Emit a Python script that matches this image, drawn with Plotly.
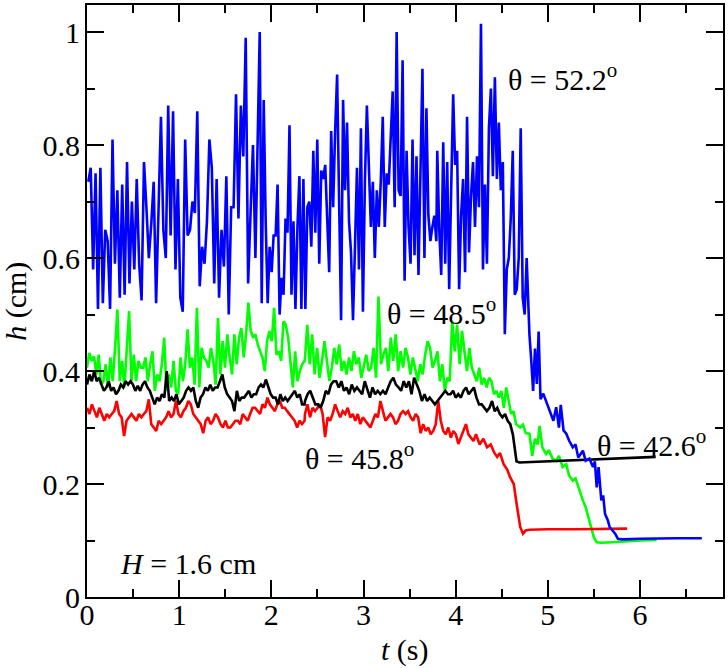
import numpy as np
import plotly.graph_objects as go

# ---------------- data (h in cm, t in s) ----------------
# Noisy parts are sampled uniformly inside each time span listed.
blue_spans = [(0.014, 1.827), (1.874, 3.79), (3.80, 4.77)]
blue_a = [0.735, 0.76, 0.58, 0.75, 0.51, 0.76, 0.52, 0.65, 0.63, 0.51, 0.81, 0.59, 0.72, 0.53, 0.73,
          0.535, 0.77, 0.555, 0.70, 0.58, 0.74, 0.59, 0.525, 0.77, 0.69, 0.60, 0.66, 0.735, 0.52, 0.67,
          0.85, 0.65, 0.60, 0.87, 0.64, 0.86, 0.58, 0.74, 0.53, 0.505, 0.81, 0.64, 0.65, 0.70, 0.68,
          0.86, 0.55, 0.62, 0.59, 0.665, 0.81, 0.76, 0.555, 0.74, 0.53, 0.65, 0.585, 0.745, 0.50, 0.69,
          0.69, 0.89, 0.67, 0.87, 0.78, 0.99, 0.555, 0.68, 0.80, 0.60]
blue_b = [1.0, 0.52, 0.88, 0.665, 0.52, 0.62, 0.575, 0.64, 0.64, 0.73, 0.50, 0.565, 0.535, 0.67, 0.645,
          0.835, 0.535, 0.665, 0.51, 0.655, 0.745, 0.51, 0.74, 0.51, 0.69, 0.70, 0.62, 0.79, 0.645, 0.81,
          0.59, 0.755, 0.74, 0.765, 0.665, 0.575, 0.825, 0.69, 0.825, 0.925, 0.70, 0.49, 0.88, 0.72, 0.84,
          0.665, 0.61, 0.49, 0.62, 0.76, 0.58, 0.83, 0.505, 0.735, 0.87, 0.75, 0.655, 0.735, 0.60, 0.72,
          0.655, 0.735, 0.85, 0.655, 0.75, 0.73, 0.81, 0.895, 0.69, 1.0, 0.72, 0.71, 0.95, 0.56, 0.79,
          0.655, 0.59, 0.81, 0.605, 0.78, 0.57, 0.79, 0.935, 0.60, 0.865, 0.675, 0.63, 0.655, 0.675, 0.63]
blue_c = [0.79, 0.65, 0.57, 0.805, 0.59, 0.77, 0.545, 0.72, 0.89, 0.765, 0.79, 0.545, 0.675, 0.74, 0.575,
          0.85, 0.61, 0.71, 0.77, 0.655, 0.78, 0.69, 1.015, 0.58, 0.73, 0.59, 0.83, 0.90, 0.745, 0.92,
          0.74, 0.84, 0.72, 0.77, 0.465, 0.58, 0.60, 0.67, 0.79, 0.535, 0.545, 0.60, 0.83, 0.53, 0.50, 0.60]
blue_tail_t = [4.80, 4.82, 4.84, 4.86, 4.88, 4.90, 4.92, 4.95, 4.98, 5.02, 5.06, 5.09, 5.12, 5.14, 5.17,
               5.20, 5.23, 5.27, 5.30, 5.33, 5.38, 5.41, 5.45, 5.49, 5.51, 5.53, 5.55, 5.58, 5.60, 5.62,
               5.65, 5.67, 5.70, 5.73, 5.76, 5.81, 6.0, 6.2, 6.4, 6.67]
blue_tail_h = [0.465, 0.418, 0.365, 0.44, 0.377, 0.47, 0.35, 0.36, 0.347, 0.33, 0.312, 0.336, 0.30, 0.34, 0.295,
               0.289, 0.277, 0.265, 0.27, 0.247, 0.259, 0.241, 0.245, 0.23, 0.24, 0.194, 0.23, 0.171, 0.18, 0.147,
               0.136, 0.124, 0.118, 0.112, 0.103, 0.102, 0.103, 0.104, 0.104, 0.104]

green_spans = [(0.0, 2.36), (2.363, 4.655)]
green_a = [0.406, 0.432, 0.418, 0.426, 0.394, 0.429, 0.376, 0.382, 0.412, 0.371, 0.424, 0.382, 0.441, 0.509,
           0.382, 0.418, 0.371, 0.447, 0.506, 0.382, 0.429, 0.382, 0.418, 0.406, 0.406, 0.424, 0.382, 0.412,
           0.435, 0.365, 0.394, 0.382, 0.412, 0.459, 0.365, 0.394, 0.371, 0.418, 0.365, 0.359, 0.424, 0.382,
           0.412, 0.474, 0.406, 0.424, 0.376, 0.512, 0.371, 0.441, 0.424, 0.418, 0.406, 0.441, 0.418, 0.376,
           0.494, 0.394, 0.453, 0.406, 0.465, 0.424, 0.394, 0.465, 0.412, 0.459, 0.476, 0.424, 0.465, 0.521,
           0.471, 0.459, 0.465, 0.447, 0.435, 0.424, 0.40, 0.453, 0.471, 0.453, 0.512, 0.429, 0.435, 0.418,
           0.488, 0.482, 0.459, 0.418, 0.371, 0.435, 0.382, 0.40, 0.412, 0.418]
green_b = [0.418, 0.482, 0.412, 0.465, 0.394, 0.441, 0.388, 0.418, 0.453, 0.418, 0.382, 0.406, 0.441, 0.412,
           0.447, 0.40, 0.418, 0.394, 0.424, 0.40, 0.435, 0.412, 0.424, 0.388, 0.406, 0.429, 0.40, 0.406,
           0.441, 0.388, 0.532, 0.412, 0.429, 0.441, 0.40, 0.459, 0.418, 0.465, 0.40, 0.435, 0.406, 0.441,
           0.424, 0.394, 0.424, 0.40, 0.382, 0.412, 0.394, 0.429, 0.453, 0.441, 0.406, 0.418, 0.435, 0.382,
           0.412, 0.365, 0.388, 0.382, 0.488, 0.435, 0.482, 0.412, 0.471, 0.435, 0.40, 0.441, 0.406, 0.394,
           0.382, 0.406, 0.376, 0.388, 0.371, 0.388, 0.382, 0.359, 0.365, 0.353, 0.365, 0.335, 0.371, 0.347,
           0.324, 0.329, 0.306]
green_tail_t = [4.70, 4.73, 4.76, 4.80, 4.83, 4.86, 4.89, 4.91, 4.94, 4.98, 5.01, 5.05, 5.09, 5.12, 5.16,
                5.20, 5.23, 5.27, 5.30, 5.34, 5.38, 5.41, 5.44, 5.47, 5.50, 5.53, 5.58, 5.70, 5.85, 6.0, 6.18]
green_tail_h = [0.30, 0.305, 0.29, 0.289, 0.25, 0.28, 0.27, 0.303, 0.265, 0.253, 0.26, 0.245, 0.241, 0.25, 0.23,
                0.235, 0.215, 0.206, 0.21, 0.189, 0.171, 0.159, 0.14, 0.125, 0.105, 0.097, 0.096, 0.097, 0.099,
                0.10, 0.101]

black_spans = [(0.0, 2.36), (2.365, 4.62)]
black_a = [0.376, 0.394, 0.382, 0.40, 0.382, 0.388, 0.376, 0.365, 0.371, 0.382, 0.365, 0.371, 0.359, 0.365,
           0.376, 0.371, 0.382, 0.376, 0.382, 0.376, 0.365, 0.374, 0.365, 0.376, 0.382, 0.371, 0.365, 0.353,
           0.341, 0.353, 0.347, 0.359, 0.353, 0.40, 0.347, 0.353, 0.347, 0.359, 0.341, 0.347, 0.353, 0.365,
           0.371, 0.365, 0.371, 0.347, 0.335, 0.353, 0.359, 0.371, 0.365, 0.376, 0.365, 0.371, 0.371, 0.382,
           0.394, 0.371, 0.359, 0.353, 0.347, 0.329, 0.365, 0.347, 0.353, 0.353, 0.359, 0.365, 0.353, 0.359,
           0.359, 0.371, 0.376, 0.371, 0.385, 0.371, 0.359, 0.353, 0.353, 0.341, 0.359, 0.347, 0.353, 0.347,
           0.353, 0.359, 0.365, 0.353, 0.359, 0.341, 0.341]
black_b = [0.347, 0.359, 0.365, 0.353, 0.341, 0.341, 0.335, 0.347, 0.365, 0.359, 0.376, 0.382, 0.382, 0.371,
           0.382, 0.365, 0.371, 0.359, 0.376, 0.365, 0.371, 0.365, 0.359, 0.382, 0.365, 0.353, 0.371, 0.359,
           0.365, 0.359, 0.365, 0.359, 0.371, 0.382, 0.388, 0.376, 0.371, 0.365, 0.382, 0.371, 0.382, 0.359,
           0.388, 0.376, 0.365, 0.347, 0.359, 0.347, 0.353, 0.347, 0.341, 0.347, 0.353, 0.359, 0.365, 0.359,
           0.359, 0.365, 0.353, 0.359, 0.353, 0.365, 0.371, 0.359, 0.365, 0.371, 0.353, 0.341, 0.341, 0.335,
           0.329, 0.335, 0.347, 0.329, 0.335, 0.324, 0.318, 0.324, 0.312, 0.306, 0.288]
black_tail_t = [4.66, 4.69, 6.17]
black_tail_h = [0.24, 0.238, 0.248]

red_spans = [(0.0, 2.36), (2.365, 4.22)]
red_a = [0.335, 0.324, 0.341, 0.329, 0.318, 0.335, 0.324, 0.312, 0.324, 0.318, 0.324, 0.329, 0.347, 0.324,
         0.318, 0.285, 0.312, 0.318, 0.324, 0.318, 0.312, 0.324, 0.318, 0.324, 0.329, 0.35, 0.306, 0.30,
         0.294, 0.312, 0.306, 0.312, 0.318, 0.329, 0.318, 0.324, 0.347, 0.324, 0.318, 0.329, 0.335, 0.347,
         0.341, 0.324, 0.318, 0.312, 0.306, 0.29, 0.312, 0.318, 0.306, 0.312, 0.324, 0.318, 0.306, 0.30,
         0.312, 0.30, 0.30, 0.306, 0.312, 0.312, 0.306, 0.324, 0.318, 0.312, 0.324, 0.335, 0.335, 0.329,
         0.324, 0.341, 0.335, 0.353, 0.341, 0.335, 0.329, 0.341, 0.347, 0.335, 0.335, 0.329, 0.324, 0.318,
         0.312, 0.30, 0.312, 0.306, 0.312]
red_b = [0.324, 0.341, 0.318, 0.335, 0.329, 0.335, 0.341, 0.324, 0.283, 0.318, 0.312, 0.324, 0.341, 0.329,
         0.318, 0.329, 0.324, 0.335, 0.318, 0.324, 0.312, 0.324, 0.306, 0.318, 0.312, 0.306, 0.30, 0.312,
         0.324, 0.318, 0.347, 0.329, 0.312, 0.318, 0.324, 0.318, 0.306, 0.312, 0.324, 0.329, 0.324, 0.329,
         0.318, 0.312, 0.324, 0.318, 0.29, 0.306, 0.294, 0.30, 0.288, 0.294, 0.306, 0.347, 0.312, 0.294,
         0.288, 0.30, 0.282, 0.294, 0.288, 0.271, 0.282, 0.294, 0.306, 0.288, 0.282, 0.276, 0.288]
red_tail_t = [4.26, 4.30, 4.34, 4.38, 4.42, 4.45, 4.48, 4.52, 4.56, 4.59, 4.63, 4.66, 4.70, 4.73, 4.76,
              4.80, 5.0, 5.3, 5.6, 5.86]
red_tail_h = [0.27, 0.28, 0.265, 0.27, 0.255, 0.248, 0.255, 0.235, 0.225, 0.212, 0.20, 0.166, 0.124, 0.112,
              0.118, 0.119, 0.12, 0.12, 0.121, 0.121]

labels = ["θ = 52.2<sup>o</sup>", "θ = 48.5<sup>o</sup>", "θ = 45.8<sup>o</sup>", "θ = 42.6<sup>o</sup>",
          "<i>H</i> = 1.6 cm"]
label_t = [4.55, 3.23, 2.34, 5.51, 0.34]
label_h = [0.92, 0.506, 0.25, 0.272, 0.06]


def build(spans, segs, tail_t, tail_h):
    t, h = [], []
    for (t0, t1), vals in zip(spans, segs):
        t.extend(np.linspace(t0, t1, len(vals)).tolist())
        h.extend(vals)
    return t + list(tail_t), h + list(tail_h)


series = [
    ("#00ff00", build(green_spans, [green_a, green_b], green_tail_t, green_tail_h)),
    ("#ff0000", build(red_spans, [red_a, red_b], red_tail_t, red_tail_h)),
    ("#000000", build(black_spans, [black_a, black_b], black_tail_t, black_tail_h)),
    ("#0000ff", build(blue_spans, [blue_a, blue_b, blue_c], blue_tail_t, blue_tail_h)),
]

FONT = "Liberation Serif, Times New Roman, Times, serif"
fig = go.Figure()
for color, (t, h) in series:
    fig.add_trace(go.Scatter(x=t, y=h, mode="lines", line=dict(color=color, width=2.6),
                             showlegend=False, hoverinfo="skip"))

for txt, tx, hy in zip(labels, label_t, label_h):
    fig.add_annotation(x=tx, y=hy, xref="x", yref="y", text=txt, showarrow=False,
                       xanchor="left", yanchor="middle", font=dict(family=FONT, size=30, color="black"))

fig.add_annotation(x=0.5, y=-0.089, xref="paper", yref="paper", text="<i>t</i> (s)", showarrow=False,
                   xanchor="center", yanchor="middle", font=dict(family=FONT, size=30, color="black"))
fig.add_annotation(x=-0.112, y=0.5, xref="paper", yref="paper", text="<i>h</i> (cm)", showarrow=False,
                   textangle=-90, xanchor="center", yanchor="middle",
                   font=dict(family=FONT, size=30, color="black"))

axis_common = dict(showline=True, linecolor="black", linewidth=2, mirror="ticks", ticks="inside",
                   ticklen=17, tickwidth=1.5, tickcolor="black", showgrid=False, zeroline=False,
                   tickfont=dict(family=FONT, size=30, color="black"))
fig.update_xaxes(range=[0, 6.9], tick0=0, dtick=1, ticklabelstandoff=-10,
                 minor=dict(ticks="inside", ticklen=8, dtick=0.5, tick0=0, tickcolor="black", tickwidth=1.5),
                 **axis_common)
fig.update_yaxes(range=[0, 1.048], tick0=0, dtick=0.2, ticklabelstandoff=-1,
                 minor=dict(ticks="inside", ticklen=8, dtick=0.1, tick0=0, tickcolor="black", tickwidth=1.5),
                 **axis_common)

fig.update_layout(width=728, height=668, margin=dict(l=87, r=4, t=3, b=71),
                  plot_bgcolor="white", paper_bgcolor="white",
                  font=dict(family=FONT, size=30, color="black"))
fig.write_html("out.html", config={"displayModeBar": False},
               post_script="document.body.style.margin='0';document.body.style.padding='0';")
